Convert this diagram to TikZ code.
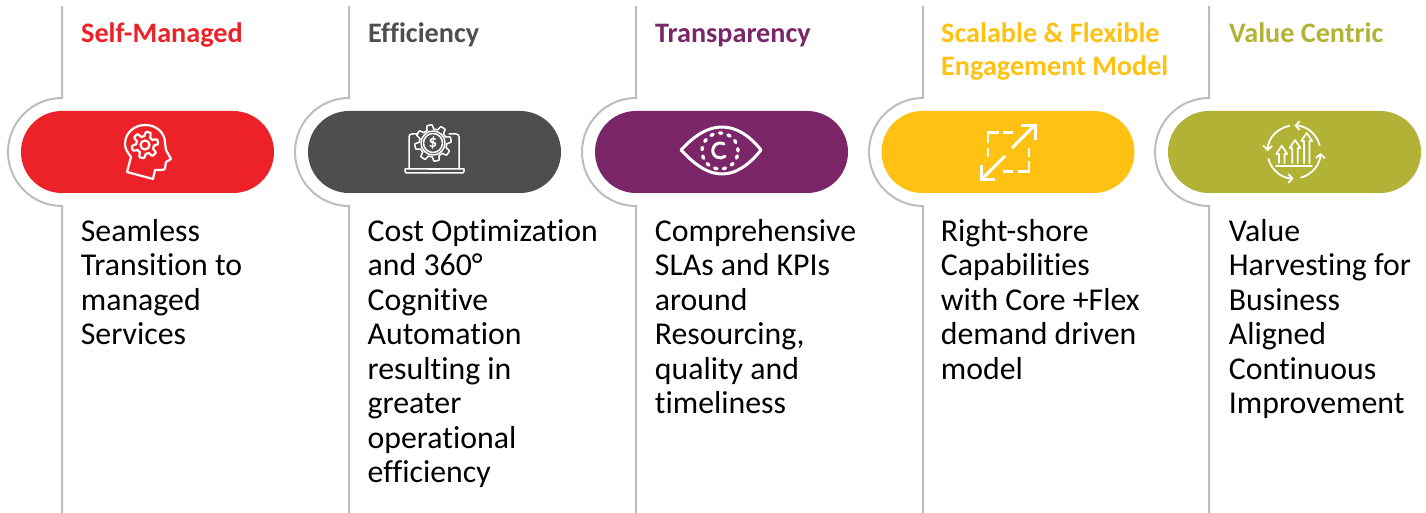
\documentclass[tikz,border=0pt]{standalone}
\usepackage{fontspec}
\setmainfont{Carlito}[Ligatures=NoCommon]
\usetikzlibrary{arrows.meta}
\definecolor{cred}{HTML}{ED2228}
\definecolor{cgray}{HTML}{4D4E50}
\definecolor{cpurple}{HTML}{7A2669}
\definecolor{cyellow}{HTML}{FFC213}
\definecolor{colive}{HTML}{B2B237}
\definecolor{crail}{HTML}{BDBDBD}
\tikzset{
  pill/.style={fill=#1,draw=none,rounded corners=40.9pt,minimum width=253pt,minimum height=82pt,inner sep=0pt},
  rail/.style={draw=crail,line width=2pt},
  titletext/.style={anchor=north west,inner sep=0pt,align=left,font=\fontsize{28.2}{33}\selectfont\bfseries,text=#1},
  bodytext/.style={anchor=north west,inner sep=0pt,align=left,text=black,font=\fontsize{31.8}{34.5}\selectfont},
  icon/.style={draw=white,line width=#1,line cap=round,line join=round},
  icon/.default=2pt
}
\newcommand{\railpath}[1]{%
  \coordinate (rt#1) at (#1,-6);
  \coordinate (ra#1) at (#1,-98);
  \coordinate (rb#1) at (#1,-206);
  \coordinate (re#1) at (#1,-513);
  \draw[rail] (rt#1) -- (ra#1) arc[start angle=90,delta angle=180,radius=54pt] -- (re#1);
}
\begin{document}
\begin{tikzpicture}[x=1pt,y=1pt]
\useasboundingbox (0,0) rectangle (1426,-513);
\railpath{62}\railpath{349}\railpath{636}\railpath{923}\railpath{1209}
\node[pill=cred] (p1) at (147.5,-152) {};
\node[pill=cgray] (p2) at (434.5,-152) {};
\node[pill=cpurple] (p3) at (721.5,-152) {};
\node[pill=cyellow] (p4) at (1008,-152) {};
\node[pill=colive] (p5) at (1294.5,-152) {};

\node[titletext=cred] (t1) at (81,-19) {\strut Self-Managed};
\node[titletext=cgray] (t2) at (368,-19) {\strut Efficiency};
\node[titletext=cpurple] (t3) at (655,-19) {\strut Transparency};
\node[titletext=cyellow] (t4) at (941,-19) {\strut Scalable \& Flexible\\Engagement Model};
\node[titletext=colive] (t5) at (1229,-19) {\strut Value Centric};

\node[bodytext] (b1) at (80.7,-217) {\strut Seamless\\Transition to\\managed\\Services};
\node[bodytext] (b2) at (367.5,-217) {\strut Cost Optimization\\and 360°\\Cognitive\\Automation\\resulting in\\greater\\operational\\efficiency};
\node[bodytext] (b3) at (654.7,-217) {\strut Comprehensive\\SLAs and KPIs\\around\\Resourcing,\\quality and\\timeliness};
\node[bodytext] (b4) at (940.7,-217) {\strut Right-shore\\Capabilities\\with Core +Flex\\demand driven\\model};
\node[bodytext] (b5) at (1228.7,-217) {\strut Value\\Harvesting for\\Business\\Aligned\\Continuous\\Improvement};

% head icon
\draw[icon=2.2pt] (127,-172) -- (131,-157) .. controls (127,-152) and (125,-148) .. (125,-144)
  .. controls (125,-133) and (134,-125) .. (145,-125)
  .. controls (157,-125) and (165,-133) .. (165,-143) -- (166,-150) -- (171,-159) -- (166,-162) -- (165,-168)
  .. controls (165,-170) and (163,-170) .. (155,-170) -- (153,-179) -- cycle;
\draw[icon=2.2pt] plot[domain=0:360,samples=145,smooth] ({145+(11+2.2*max(-1,min(1,2*sin(6*\x))))*cos(\x)},{-145+(11+2.2*max(-1,min(1,2*sin(6*\x))))*sin(\x)}) -- cycle;
\draw[icon=2.2pt] (145,-145) circle[radius=4.5pt];

% laptop gear icon
\draw[icon=1.5pt] plot[domain=0:360,samples=217] ({433+(16+2.2*max(-1,min(1,2.5*sin(8*\x))))*cos(\x)},{-143+(16+2.2*max(-1,min(1,2.5*sin(8*\x))))*sin(\x)}) -- cycle;
\draw[icon=1.5pt] (433,-143) circle[radius=12pt] (433,-143) circle[radius=9.5pt];
\node[text=white,inner sep=0pt,font=\fontsize{17}{17}\selectfont\bfseries] (dollar) at (433,-143) {\$};
\draw[icon=1.5pt] (409,-169) -- (409,-137) .. controls (409,-135) and (410,-134) .. (412,-134) -- (418,-134);
\draw[icon=1.5pt] (449,-134) -- (456,-134) .. controls (458,-134) and (459,-135) .. (459,-137) -- (459,-169);
\draw[icon=1.5pt] (405,-169) -- (464,-169) -- (464,-171) .. controls (464,-173) and (463,-173) .. (461,-173) -- (408,-173) .. controls (406,-173) and (405,-173) .. (405,-171) -- cycle;
\draw[icon=1pt] (428,-169.5) -- (440,-169.5);

% eye icon
\draw[icon=3pt] (681,-150) .. controls (695,-135) and (708,-127) .. (722,-127) .. controls (736,-127) and (749,-135) .. (761,-150)
  .. controls (749,-165) and (736,-174) .. (722,-174) .. controls (708,-174) and (695,-165) .. (681,-150) -- cycle;
\draw[icon=3.4pt,dash pattern=on 2.4pt off 6.4pt] (720,-151) circle[radius=18pt];
\draw[icon=3pt] (724,-144) arc[start angle=60,delta angle=250,radius=7.5pt];

% expand icon
\draw[icon=2.4pt,line cap=butt,line join=miter] (988,-143) -- (988,-132.5) -- (998.5,-132.5);
\draw[icon=2.4pt,line cap=butt] (1003,-132.5) -- (1013,-132.5);
\draw[icon=2.4pt,line cap=butt] (988,-148) -- (988,-157);
\draw[icon=2.4pt,line cap=butt] (1029,-148) -- (1029,-157);
\draw[icon=2.4pt,line cap=butt,line join=miter] (1029,-161) -- (1029,-171.5) -- (1018,-171.5);
\draw[icon=2.4pt,line cap=butt] (1013,-171.5) -- (1003,-171.5);
\draw[icon=3pt,line cap=butt] (1012,-148) -- (1034,-126);
\draw[icon=3pt,line cap=butt,line join=miter] (1021,-125.5) -- (1035,-125.5) -- (1035,-140);
\draw[icon=3pt,line cap=butt] (1005,-156) -- (982,-179);
\draw[icon=3pt,line cap=butt,line join=miter] (981,-165) -- (981,-179.5) -- (995,-179.5);

% growth icon
\foreach \a/\d in {15/74,100/78,195/74,285/73}{
  \draw[icon=1.8pt,-{Straight Barb[length=4pt,width=9pt]}] ({1294+26.5*cos(\a)},{-152+26.5*sin(\a)}) arc[start angle=\a,delta angle=\d,radius=26.5pt];
}
\draw[icon=1.8pt] (1276,-165.7) -- (1312,-165.7);
\foreach \x/\tip/\hb in {1281.7/145.7/154,1295/140/148,1306.7/133/141}{
  \draw[icon=1.7pt] (\x-2.7,-163) -- (\x-2.7,-\hb) -- (\x-5.5,-\hb) -- (\x,-\tip) -- (\x+5.5,-\hb) -- (\x+2.7,-\hb) -- (\x+2.7,-163);
}
\end{tikzpicture}
\end{document}
